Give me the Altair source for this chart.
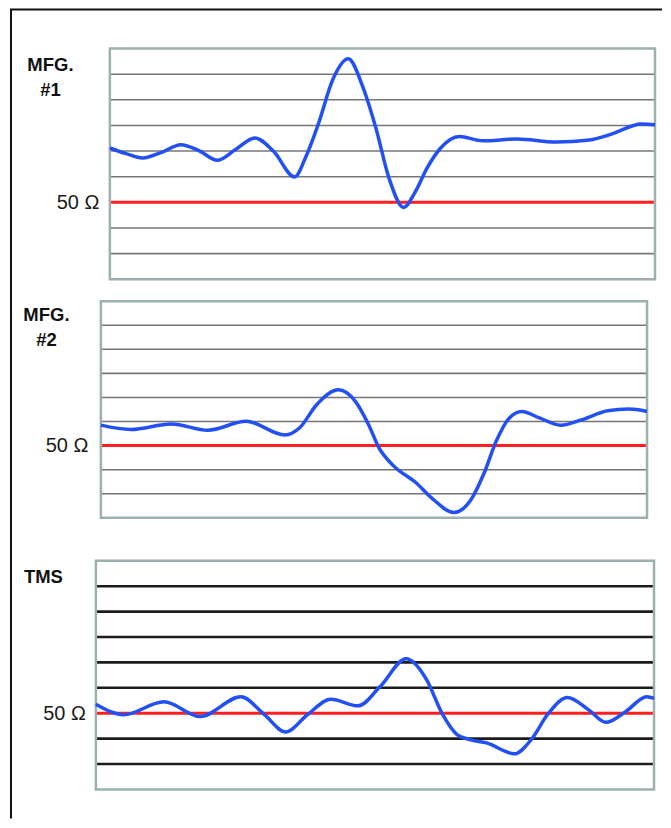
import altair as alt
import pandas as pd

# ---------------- data ----------------
panel_titles = [["MFG.", "#1"], ["MFG.", "#2"], ["TMS"]]
ref_label = "50 Ω"
grid_levels = [-2, -1, 1, 2, 3, 4, 5]
box_bottom, box_top = -3, 6
ref_level = 0

p1_x = [0, 3, 6, 9.5, 13, 16.5, 19.7, 23, 26.6, 30, 33.9, 36, 38.2, 41, 43.7, 46.5, 48.8,
        51.2, 53.9, 56, 58.2, 60.6, 64.1, 68.4, 74.7, 81.8, 88, 92, 97.5, 100]
p1_v = [2.12, 1.9, 1.73, 1.95, 2.25, 2.0, 1.64, 2.05, 2.51, 2.0, 0.99, 1.8, 3.03, 4.84, 5.6,
        4.45, 2.9, 0.95, -0.2, 0.4, 1.34, 2.1, 2.57, 2.40, 2.47, 2.35, 2.43, 2.66, 3.06, 3.03]

p2_x = [0, 5.5, 12.9, 19.6, 26.6, 33.7, 36.4, 39.5, 43.5, 46.6, 49, 50.9, 53.6, 57.6, 60.7,
        64.6, 67.7, 70.1, 72.4, 74.8, 77.1, 80.3, 84.2, 88.1, 92.8, 96.7, 100]
p2_v = [0.85, 0.67, 0.9, 0.64, 1.01, 0.44, 0.74, 1.7, 2.32, 1.84, 0.88, -0.08, -0.84, -1.52,
        -2.2, -2.78, -2.27, -1.18, 0.19, 1.15, 1.42, 1.15, 0.85, 1.08, 1.45, 1.52, 1.42]

p3_x = [0, 5, 12.2, 18.7, 26, 30.2, 34, 37.9, 42.1, 47, 50.9, 55.6, 59.3, 62, 64.7, 67, 70,
        75, 78, 81.1, 84.5, 88.3, 91.4, 94.9, 98.7, 100]
p3_v = [0.35, -0.06, 0.45, -0.13, 0.65, -0.06, -0.74, -0.06, 0.55, 0.29, 1.04, 2.14, 1.3, 0,
        -0.84, -1.04, -1.17, -1.6, -1.04, 0, 0.62, 0.13, -0.36, 0.06, 0.65, 0.58]

FONT = "Liberation Sans"
BLUE = "#2250f2"
RED = "#ff1f1f"
BOX = "#9db0b0"


def panel(xs, vs, xdom, ydom, height, grid_color, grid_width, axis_offset, label_pad,
          title, title_x, title_y, frame=False):
    xsc = alt.Scale(domain=xdom, nice=False, zero=False)
    ysc = alt.Scale(domain=ydom, nice=False, zero=False)
    yaxis = alt.Axis(values=[ref_level], labelExpr=f"'{ref_label}'", domain=False, ticks=False,
                     grid=False, offset=axis_offset, labelPadding=label_pad, labelFont=FONT,
                     labelFontSize=20, labelColor="#1a1a1a", labelBaseline="middle",
                     title=title, titleAngle=0, titleAlign="center", titleBaseline="alphabetic",
                     titleX=title_x, titleY=title_y, titleFont=FONT, titleFontSize=18.5,
                     titleFontWeight="bold", titleColor="#111111", titleLineHeight=25)
    xenc = dict(scale=xsc, axis=None)

    box_df = pd.DataFrame({"x0": [0], "x1": [100], "y0": [box_bottom], "y1": [box_top]})
    grid_df = pd.DataFrame({"v": grid_levels, "x0": 0, "x1": 100})
    ref_df = pd.DataFrame({"v": [ref_level], "x0": [0], "x1": [100]})
    line_df = pd.DataFrame({"x": xs, "v": vs})

    bg = alt.Chart(box_df).mark_rect(fill="white").encode(
        x=alt.X("x0:Q", **xenc), x2="x1", y=alt.Y("y0:Q", scale=ysc, axis=yaxis), y2="y1")
    grid = alt.Chart(grid_df).mark_rule(color=grid_color, strokeWidth=grid_width).encode(
        x=alt.X("x0:Q", **xenc), x2="x1", y=alt.Y("v:Q", scale=ysc, axis=yaxis))
    ref = alt.Chart(ref_df).mark_rule(color=RED, strokeWidth=3).encode(
        x=alt.X("x0:Q", **xenc), x2="x1", y=alt.Y("v:Q", scale=ysc, axis=yaxis))
    outline = alt.Chart(box_df).mark_rect(fill="transparent", stroke=BOX, strokeWidth=2.5).encode(
        x=alt.X("x0:Q", **xenc), x2="x1", y=alt.Y("y0:Q", scale=ysc, axis=yaxis), y2="y1")
    line = alt.Chart(line_df).mark_line(color=BLUE, strokeWidth=3.5, interpolate="monotone").encode(
        x=alt.X("x:Q", **xenc), y=alt.Y("v:Q", scale=ysc, axis=yaxis))

    layers = [bg, grid, ref, outline, line]
    if frame:
        one = pd.DataFrame({"a": [0]})
        left = alt.Chart(one).mark_rule(color="#111111", strokeWidth=2).encode(
            x=alt.value(-85), y=alt.value(-39), y2=alt.value(771))
        top = alt.Chart(one).mark_rule(color="#111111", strokeWidth=2).encode(
            x=alt.value(-86), x2=alt.value(567), y=alt.value(-39))
        layers += [left, top]
    return alt.layer(*layers).properties(width=560, height=height)


c1 = panel(p1_x, p1_v, [-14 / 5.46, 100], [box_bottom, box_top], 231, "#767676", 1.6,
           -14, 11, panel_titles[0], -60, 22, frame=True)
c2 = panel(p2_x, p2_v, [-5 / 5.47, 100 + 8 / 5.47], [box_bottom - 21 / (217 / 9), box_top], 238,
           "#767676", 1.6, -5, 13, panel_titles[1], -55, 19)
c3 = panel(p3_x, p3_v, [0, 100 + 1 / 5.59], [box_bottom, box_top], 229, "#1c1c1c", 2.6,
           0, 10.5, panel_titles[2], -53, 22)

chart = alt.vconcat(c1, c2, c3, spacing=22, bounds="flush").properties(
    padding={"left": 1, "top": 0, "right": 0, "bottom": 0}, background="white"
).configure_view(strokeWidth=0, stroke="transparent", fill="transparent")

chart.save("out.html", embed_options={"renderer": "svg", "actions": False})
